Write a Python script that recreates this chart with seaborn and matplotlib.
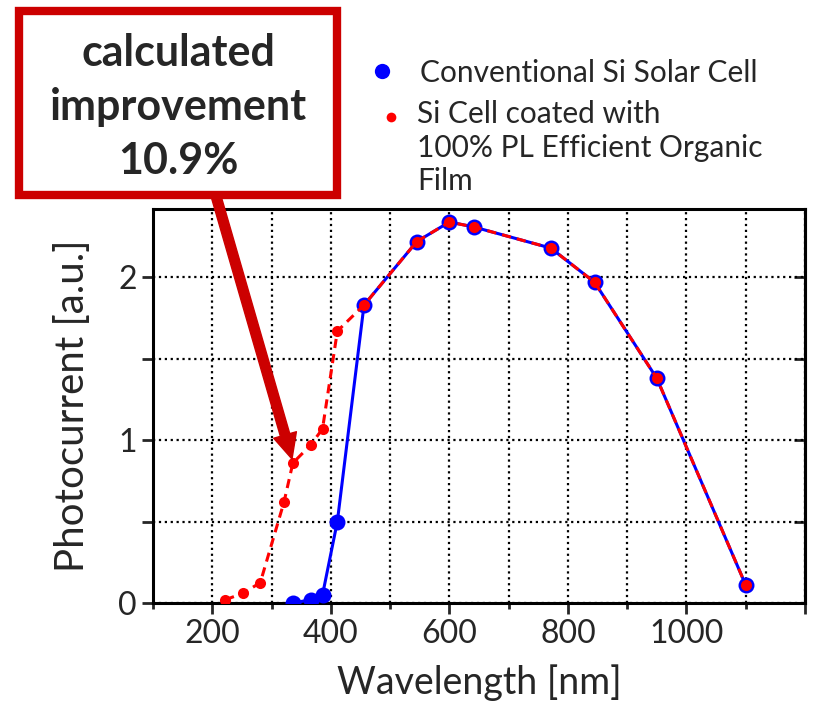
import numpy as np
import pandas as pd
import seaborn as sns
import matplotlib.pyplot as plt
from matplotlib.lines import Line2D
from matplotlib.patches import Rectangle, FancyArrowPatch

# 1. Data
wl_conventional = [336, 366, 386, 411, 456, 545, 600, 641, 771, 845, 950, 1100]
pc_conventional = [0.0, 0.02, 0.05, 0.50, 1.83, 2.22, 2.34, 2.31, 2.18, 1.97, 1.38, 0.11]

wl_coated = [222, 252, 281, 321, 336, 366, 386, 411, 456, 545, 600, 641, 771, 845, 950, 1100]
pc_coated = [0.02, 0.06, 0.125, 0.62, 0.86, 0.97, 1.07, 1.67, 1.83, 2.22, 2.34, 2.31, 2.18, 1.97, 1.38, 0.11]

x_major = [200, 400, 600, 800, 1000, 1200]
x_labels = ['200', '400', '600', '800', '1000', '']
y_major = [0, 1, 2]

label_conventional = 'Conventional Si Solar Cell'
label_coated = 'Si Cell coated with\n100% PL Efficient Organic\nFilm'
box_text = 'calculated\nimprovement\n10.9%'

df_conv = pd.DataFrame({'wl': wl_conventional, 'pc': pc_conventional})
df_coat = pd.DataFrame({'wl': wl_coated, 'pc': pc_coated})

# 2. Style
sns.set_style('ticks')
plt.rcParams['font.family'] = ['Lato', 'DejaVu Sans']

W, H = 816, 706
fig = plt.figure(figsize=(W / 100, H / 100), dpi=100)
ax = fig.add_axes([153 / W, 1 - 603 / H, (805 - 153) / W, (603 - 209) / H])

# 3. The two curves
sns.lineplot(data=df_conv, x='wl', y='pc', ax=ax, color='blue', linewidth=2.2,
             marker='o', markersize=11.5, markeredgewidth=0, sort=False, zorder=3)
sns.lineplot(data=df_coat, x='wl', y='pc', ax=ax, color='red', linewidth=2.2,
             linestyle=(0, (3, 2)), marker='o', markersize=8, markeredgewidth=0,
             sort=False, zorder=4)

# 4. Axes
ax.set_xlim(100, 1200)
ax.set_ylim(0, 2.42)
ax.set_xticks(x_major)
ax.set_xticklabels(x_labels)
ax.set_xticks(np.arange(100, 1201, 200), minor=True)
ax.set_yticks(y_major)
ax.set_yticks([0.5, 1.5], minor=True)
ax.tick_params(axis='both', which='major', labelsize=23, length=8, width=2, direction='out')
ax.tick_params(axis='x', which='minor', length=4, width=2, direction='out')
ax.tick_params(axis='y', which='minor', length=8, width=2, direction='out')
ax.grid(which='both', linestyle=':', color='black', linewidth=1.6)
for s in ax.spines.values():
    s.set_visible(True)
    s.set_linewidth(2.2)
    s.set_color('black')

sec = ax.secondary_yaxis('right')
sec.set_yticks([0.5, 1, 1.5, 2])
sec.tick_params(direction='in', length=8, width=2, labelright=False)
sec.spines['right'].set_linewidth(2.2)

ax.set_xlabel('Wavelength [nm]', fontsize=27, labelpad=11)
ax.set_ylabel('Photocurrent [a.u.]', fontsize=29, labelpad=20)

# 5. Legend drawn by hand above the plot
fig.add_artist(Line2D([382 / W], [1 - 71 / H], marker='o', markersize=11,
                      color='blue', markeredgewidth=0, transform=fig.transFigure))
fig.add_artist(Line2D([391 / W], [1 - 117 / H], marker='o', markersize=7,
                      color='red', markeredgewidth=0, transform=fig.transFigure))
fig.text(420 / W, 1 - 73 / H, label_conventional, fontsize=21.5, va='center', ha='left')
fig.text(417 / W, 1 - 100 / H, label_coated, fontsize=21.5, va='top', ha='left',
         linespacing=1.25)

# 6. Red box and arrow
fig.add_artist(Rectangle((19 / W, 1 - 195 / H), (337 - 19) / W, (195 - 11) / H,
                         transform=fig.transFigure, facecolor='white',
                         edgecolor='#CC0000', linewidth=6, zorder=5))
fig.text(178 / W, 1 - 107 / H, box_text, fontsize=31, fontweight='bold',
         ha='center', va='center', linespacing=1.42, zorder=6)
fig.add_artist(FancyArrowPatch((216 / W, 1 - 196 / H), (292 / W, 1 - 459 / H),
                               transform=fig.transFigure,
                               arrowstyle='simple,head_width=17,head_length=18,tail_width=7',
                               mutation_scale=1, color='#CC0000', shrinkA=0, shrinkB=0,
                               zorder=6))

fig.savefig('out.png', dpi=100)
